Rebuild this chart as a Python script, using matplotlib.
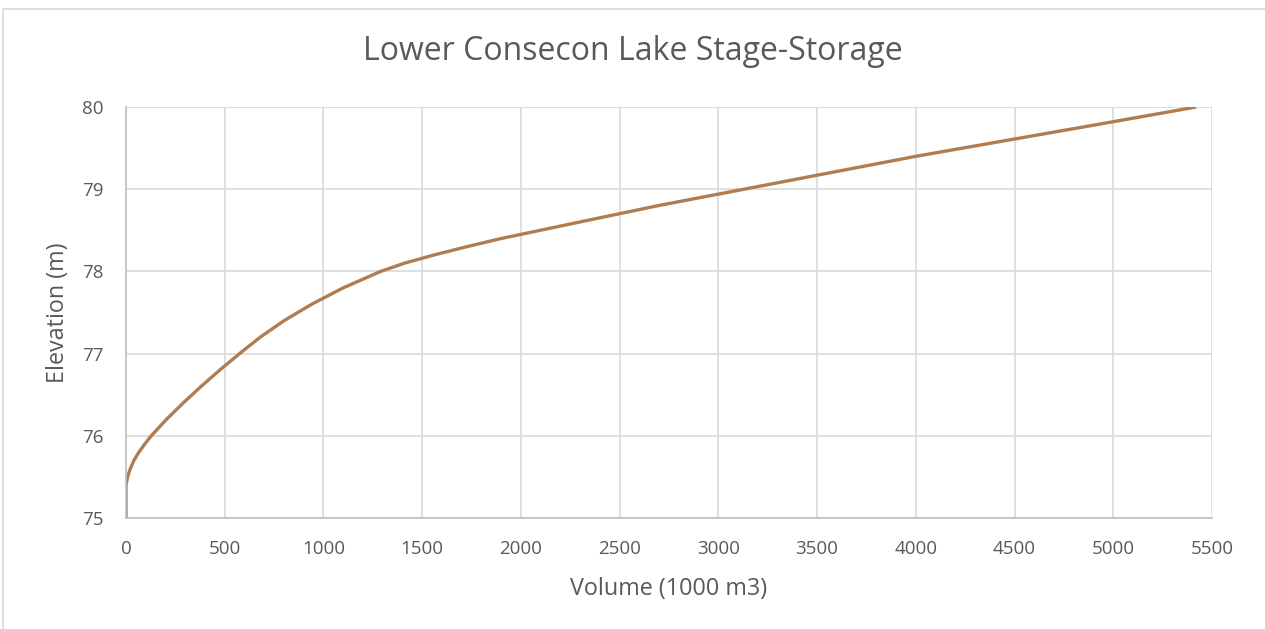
import matplotlib
matplotlib.use("Agg")
import matplotlib.pyplot as plt
from matplotlib.patches import Rectangle

# stage-storage curve
elevation = [75.0, 75.4, 75.5, 75.6, 75.7, 75.8, 75.9, 76.0, 76.2, 76.4, 76.6,
             76.8, 77.0, 77.2, 77.4, 77.6, 77.8, 78.0, 78.1, 78.2, 78.3,
             78.4, 78.6, 78.8, 79.0, 79.2, 79.4, 79.6, 79.8, 80.0]
volume = [0, 0, 8, 22, 40, 65, 95, 128, 205, 290, 380,
          475, 575, 680, 800, 940, 1100, 1290, 1410, 1560, 1725,
          1900, 2296, 2695, 3130, 3565, 4000, 4475, 4950, 5420]
x_ticks = list(range(0, 5501, 500))
y_ticks = [75, 76, 77, 78, 79, 80]

text_color = "#595959"
grid_color = "#d9d9d9"
line_color = "#b07d52"
plt.rcParams["font.family"] = ["Open Sans", "DejaVu Sans"]

fig = plt.figure(figsize=(12.65, 6.29), dpi=100)
# light frame round the chart area
fig.patches.append(Rectangle((0.002, -0.1), 1.2, 1.1 - 9 / 629,
                             transform=fig.transFigure, fill=False,
                             edgecolor=grid_color, linewidth=1.2))
ax = fig.add_axes([126 / 1265, 1 - 518 / 629, (1212 - 126) / 1265, (518 - 107) / 629])

ax.plot(volume, elevation, color=line_color, linewidth=2.4,
        solid_capstyle="butt", solid_joinstyle="round")

ax.set_xlim(0, 5500)
ax.set_ylim(75, 80)
ax.set_xticks(x_ticks)
ax.set_yticks(y_ticks)
ax.grid(True, color=grid_color, linewidth=1.2)
ax.set_axisbelow(True)
for side in ["top", "right"]:
    ax.spines[side].set_visible(False)
for side in ["left", "bottom"]:
    ax.spines[side].set_color("#bfbfbf")
    ax.spines[side].set_linewidth(1.2)
ax.tick_params(length=0, labelsize=13.5, colors=text_color)
ax.tick_params(axis="x", pad=16)
ax.tick_params(axis="y", pad=16)

ax.set_xlabel("Volume (1000 m3)", fontsize=16.8, color=text_color)
ax.set_ylabel("Elevation (m)", fontsize=16.8, color=text_color)
ax.xaxis.set_label_coords(0.5, (518 - 589) / 411)
ax.xaxis.label.set_va("center")
ax.yaxis.set_label_coords((58 - 126) / 1086, 0.5)
ax.yaxis.label.set_va("center")

fig.text(0.5, 1 - 52 / 629, "Lower Consecon Lake Stage-Storage",
         ha="center", va="center", fontsize=23, color=text_color)

fig.savefig("out.png", dpi=100)
